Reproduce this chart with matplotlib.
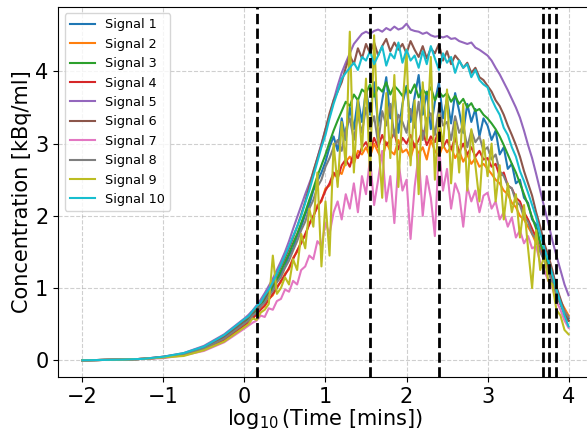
import matplotlib
matplotlib.use("Agg")
import matplotlib.pyplot as plt

# log10 of frame mid times (mins)
log_time = [-2.0, -1.5, -1.25, -1.0, -0.75, -0.5, -0.25,
            0.0, 0.05, 0.1, 0.15, 0.2, 0.25, 0.3, 0.35, 0.4, 0.45,
            0.5, 0.55, 0.6, 0.65, 0.7, 0.75, 0.8, 0.85, 0.9, 0.95,
            1.0, 1.05, 1.1, 1.15, 1.2, 1.25, 1.3, 1.35, 1.4, 1.45,
            1.5, 1.55, 1.6, 1.65, 1.7, 1.75, 1.8, 1.85, 1.9, 1.95,
            2.0, 2.05, 2.1, 2.15, 2.2, 2.25, 2.3, 2.35, 2.4, 2.45,
            2.5, 2.55, 2.6, 2.65, 2.7, 2.75, 2.8, 2.85, 2.9, 2.95,
            3.0, 3.05, 3.1, 3.15, 3.2, 3.25, 3.3, 3.35, 3.4, 3.45,
            3.5, 3.55, 3.6, 3.65, 3.7, 3.75, 3.8, 3.85, 3.9, 3.95,
            4.0]

signal_1 = [0.0, 0.01, 0.02, 0.04, 0.08, 0.16, 0.30,
            0.50, 0.56, 0.60, 0.68, 0.75, 0.82, 0.92, 0.98, 1.10, 1.20,
            1.30, 1.45, 1.55, 1.72, 1.85, 2.02, 2.15, 2.35, 2.48, 2.60,
            2.75, 2.95, 3.10, 2.90, 3.35, 3.05, 3.50, 3.20, 3.62, 3.30,
            3.75, 3.40, 3.85, 3.25, 3.60, 3.92, 3.35, 3.70, 3.15, 3.55,
            3.80, 3.30, 3.65, 3.95, 3.40, 3.72, 3.20, 3.58, 3.85, 3.35,
            3.62, 3.28, 3.70, 3.45, 3.15, 3.55, 3.30, 3.48, 3.10, 3.35,
            3.25, 3.05, 3.18, 2.85, 2.95, 2.65, 2.72, 2.45, 2.50, 2.25,
            2.18, 1.95, 1.88, 1.62, 1.50, 1.30, 1.15, 0.95, 0.80, 0.66,
            0.58]

signal_2 = [0.0, 0.01, 0.02, 0.04, 0.08, 0.15, 0.28,
            0.49, 0.52, 0.59, 0.63, 0.71, 0.75, 0.85, 0.90, 1.02, 1.08,
            1.20, 1.26, 1.42, 1.50, 1.65, 1.72, 1.90, 1.98, 2.15, 2.20,
            2.38, 2.42, 2.55, 2.62, 2.58, 2.75, 2.82, 2.72, 2.90, 2.85,
            2.95, 2.82, 3.00, 2.88, 2.78, 3.02, 2.90, 2.85, 3.05, 2.88,
            2.92, 2.80, 3.00, 2.86, 2.95, 2.78, 3.05, 2.90, 2.82, 2.98,
            2.88, 2.95, 2.80, 2.90, 2.75, 2.85, 2.72, 2.80, 2.68, 2.72,
            2.65, 2.58, 2.50, 2.45, 2.35, 2.30, 2.18, 2.12, 2.00, 1.95,
            1.85, 1.75, 1.62, 1.55, 1.40, 1.30, 1.12, 1.00, 0.82, 0.72,
            0.62]

signal_3 = [0.0, 0.01, 0.02, 0.04, 0.09, 0.17, 0.31,
            0.52, 0.58, 0.63, 0.70, 0.77, 0.85, 0.93, 1.02, 1.12, 1.24,
            1.36, 1.48, 1.62, 1.75, 1.90, 2.05, 2.22, 2.38, 2.55, 2.70,
            2.85, 3.02, 3.18, 3.32, 3.45, 3.58, 3.52, 3.68, 3.60, 3.75,
            3.70, 3.82, 3.65, 3.78, 3.72, 3.85, 3.68, 3.80, 3.74, 3.66,
            3.78, 3.70, 3.82, 3.64, 3.75, 3.68, 3.78, 3.60, 3.72, 3.65,
            3.70, 3.58, 3.66, 3.55, 3.62, 3.50, 3.56, 3.45, 3.48, 3.40,
            3.35, 3.28, 3.20, 3.10, 2.98, 2.85, 2.72, 2.60, 2.45, 2.30,
            2.15, 1.98, 1.82, 1.62, 1.45, 1.28, 1.10, 0.92, 0.78, 0.64,
            0.55]

signal_4 = [0.0, 0.01, 0.02, 0.04, 0.08, 0.15, 0.28,
            0.48, 0.53, 0.58, 0.64, 0.70, 0.76, 0.84, 0.92, 1.00, 1.10,
            1.18, 1.28, 1.40, 1.52, 1.62, 1.75, 1.88, 2.00, 2.12, 2.22,
            2.35, 2.45, 2.60, 2.52, 2.70, 2.78, 2.68, 2.88, 2.80, 2.95,
            3.02, 2.90, 3.08, 2.95, 3.12, 2.98, 3.05, 3.15, 2.92, 3.08,
            3.00, 3.12, 2.95, 3.05, 3.18, 2.98, 3.10, 3.02, 3.20, 2.95,
            3.05, 2.92, 3.08, 2.88, 3.00, 2.85, 2.95, 2.82, 2.90, 2.78,
            2.80, 2.68, 2.72, 2.55, 2.60, 2.42, 2.38, 2.25, 2.20, 2.05,
            1.95, 1.82, 1.70, 1.52, 1.40, 1.25, 1.08, 0.92, 0.78, 0.65,
            0.55]

signal_5 = [0.0, 0.01, 0.02, 0.05, 0.10, 0.20, 0.36,
            0.58, 0.63, 0.69, 0.76, 0.84, 0.93, 1.03, 1.13, 1.25, 1.37,
            1.50, 1.65, 1.82, 1.98, 2.14, 2.30, 2.45, 2.60, 2.80, 3.00,
            3.20, 3.38, 3.60, 3.80, 3.98, 4.12, 4.25, 4.38, 4.45, 4.52,
            4.55, 4.52, 4.56, 4.58, 4.55, 4.60, 4.57, 4.62, 4.58, 4.60,
            4.66, 4.58, 4.56, 4.55, 4.52, 4.54, 4.50, 4.48, 4.49, 4.47,
            4.49, 4.45, 4.46, 4.42, 4.40, 4.38, 4.40, 4.33, 4.30, 4.26,
            4.22, 4.15, 4.05, 3.96, 3.85, 3.74, 3.62, 3.50, 3.36, 3.18,
            2.98, 2.80, 2.58, 2.35, 2.12, 1.90, 1.66, 1.45, 1.25, 1.05,
            0.90]

signal_6 = [0.0, 0.01, 0.02, 0.05, 0.09, 0.18, 0.33,
            0.55, 0.60, 0.66, 0.72, 0.80, 0.87, 0.97, 1.06, 1.18, 1.30,
            1.42, 1.55, 1.70, 1.85, 2.02, 2.20, 2.40, 2.62, 2.80, 2.98,
            3.20, 3.42, 3.60, 3.72, 3.85, 4.05, 4.22, 4.10, 4.32, 4.18,
            4.38, 4.25, 4.40, 4.22, 4.35, 4.45, 4.28, 4.40, 4.30, 4.38,
            4.25, 4.42, 4.30, 4.20, 4.35, 4.18, 4.32, 4.25, 4.38, 4.15,
            4.28, 4.10, 4.22, 4.15, 4.05, 4.12, 3.98, 4.05, 3.92, 3.88,
            3.80, 3.72, 3.60, 3.52, 3.40, 3.25, 3.12, 2.98, 2.82, 2.62,
            2.45, 2.28, 2.05, 1.85, 1.62, 1.45, 1.25, 1.02, 0.85, 0.68,
            0.55]

signal_7 = [0.0, 0.01, 0.02, 0.03, 0.07, 0.13, 0.25,
            0.44, 0.48, 0.52, 0.55, 0.62, 0.60, 0.72, 0.70, 0.82, 0.85,
            0.98, 0.95, 1.10, 1.05, 1.25, 1.30, 1.45, 1.40, 1.65, 1.58,
            1.90, 1.75, 2.05, 2.20, 1.95, 2.30, 2.10, 2.45, 2.05, 2.55,
            2.30, 2.80, 2.15, 2.50, 2.90, 2.20, 2.55, 1.90, 2.75, 2.35,
            2.50, 1.68, 2.40, 2.85, 2.00, 2.55, 2.25, 1.72, 2.95, 2.35,
            2.65, 2.10, 2.45, 2.30, 1.85, 2.40, 2.20, 2.35, 2.05, 2.28,
            2.32, 2.10, 2.20, 1.95, 2.05, 1.85, 1.98, 1.70, 1.80, 1.62,
            1.72, 1.55, 1.58, 1.35, 1.25, 1.10, 1.00, 0.82, 0.70, 0.55,
            0.45]

signal_8 = [0.0, 0.01, 0.02, 0.04, 0.08, 0.16, 0.30,
            0.51, 0.55, 0.62, 0.66, 0.75, 0.80, 0.90, 0.96, 1.08, 1.15,
            1.28, 1.38, 1.52, 1.65, 1.80, 1.92, 2.10, 2.22, 2.40, 2.50,
            2.68, 2.80, 2.95, 3.05, 2.90, 3.20, 3.35, 3.05, 3.40, 3.15,
            3.50, 3.20, 3.38, 3.00, 3.45, 3.25, 3.55, 3.10, 3.40, 3.30,
            3.15, 3.48, 3.22, 3.58, 3.05, 3.35, 3.42, 3.12, 3.50, 3.25,
            3.30, 3.05, 3.38, 3.15, 3.25, 2.95, 3.18, 3.02, 3.10, 2.90,
            2.95, 2.78, 2.85, 2.62, 2.55, 2.42, 2.38, 2.20, 2.15, 1.98,
            1.92, 1.75, 1.68, 1.50, 1.38, 1.22, 1.08, 0.92, 0.78, 0.68,
            0.60]

signal_9 = [0.0, 0.01, 0.02, 0.04, 0.06, 0.14, 0.26,
            0.46, 0.50, 0.58, 0.56, 0.66, 0.70, 0.78, 1.45, 0.92, 1.00,
            1.15, 1.05, 1.40, 1.25, 1.75, 1.55, 2.10, 1.85, 2.60, 1.30,
            2.20, 1.45, 3.00, 2.40, 3.30, 2.70, 4.55, 2.60, 3.60, 2.90,
            3.90, 2.55, 4.50, 3.10, 2.25, 3.70, 2.80, 3.95, 2.40, 3.50,
            4.30, 2.70, 3.60, 2.30, 3.85, 3.05, 4.20, 2.50, 3.40, 2.95,
            3.75, 2.45, 3.30, 2.60, 3.55, 2.35, 3.20, 2.70, 2.20, 3.05,
            2.55, 3.00, 2.20, 2.70, 1.95, 2.45, 2.05, 2.30, 1.70, 2.15,
            1.55, 1.00, 1.80, 1.25, 1.45, 1.10, 1.05, 0.70, 0.62, 0.42,
            0.36]

signal_10 = [0.0, 0.01, 0.02, 0.05, 0.10, 0.19, 0.35,
             0.57, 0.61, 0.68, 0.75, 0.80, 0.90, 0.98, 1.08, 1.20, 1.32,
             1.45, 1.58, 1.72, 1.85, 2.00, 2.18, 2.35, 2.55, 2.75, 2.95,
             3.12, 3.35, 3.55, 3.72, 3.90, 3.98, 4.05, 4.12, 4.02, 4.20,
             4.15, 4.28, 4.10, 4.22, 4.35, 4.08, 4.25, 4.18, 4.40, 4.12,
             4.30, 4.15, 4.22, 4.05, 4.28, 4.10, 4.35, 4.18, 4.02, 4.25,
             4.12, 4.20, 3.98, 4.15, 4.05, 4.10, 3.92, 4.02, 3.88, 3.82,
             3.78, 3.62, 3.50, 3.40, 3.22, 3.12, 2.95, 2.82, 2.62, 2.48,
             2.32, 2.15, 1.98, 1.75, 1.55, 1.38, 1.18, 0.98, 0.80, 0.62,
             0.47]

signals = [signal_1, signal_2, signal_3, signal_4, signal_5,
           signal_6, signal_7, signal_8, signal_9, signal_10]
labels = ["Signal %d" % (i + 1) for i in range(len(signals))]

# frame boundaries (log10 mins)
frame_edges = [0.16, 1.55, 2.40, 3.69, 3.76, 3.85]

fig = plt.figure(figsize=(5.87, 4.32), dpi=100)
ax = fig.add_axes([0.099, 0.127, 0.911, 0.857])

for sig, lab in zip(signals, labels):
    ax.plot(log_time, sig, label=lab, linewidth=1.5)

for edge in frame_edges:
    ax.axvline(edge, color="black", linestyle="--", linewidth=2)

ax.grid(True, linestyle="--", alpha=0.6)
ax.set_xlabel(r"$\log_{10}$(Time [mins])", fontsize=15, labelpad=0)
ax.set_ylabel("Concentration [kBq/ml]", fontsize=15, labelpad=2)
ax.tick_params(labelsize=15)
ax.legend(loc="upper left", fontsize=9.2)

fig.savefig("out.png", dpi=100)
